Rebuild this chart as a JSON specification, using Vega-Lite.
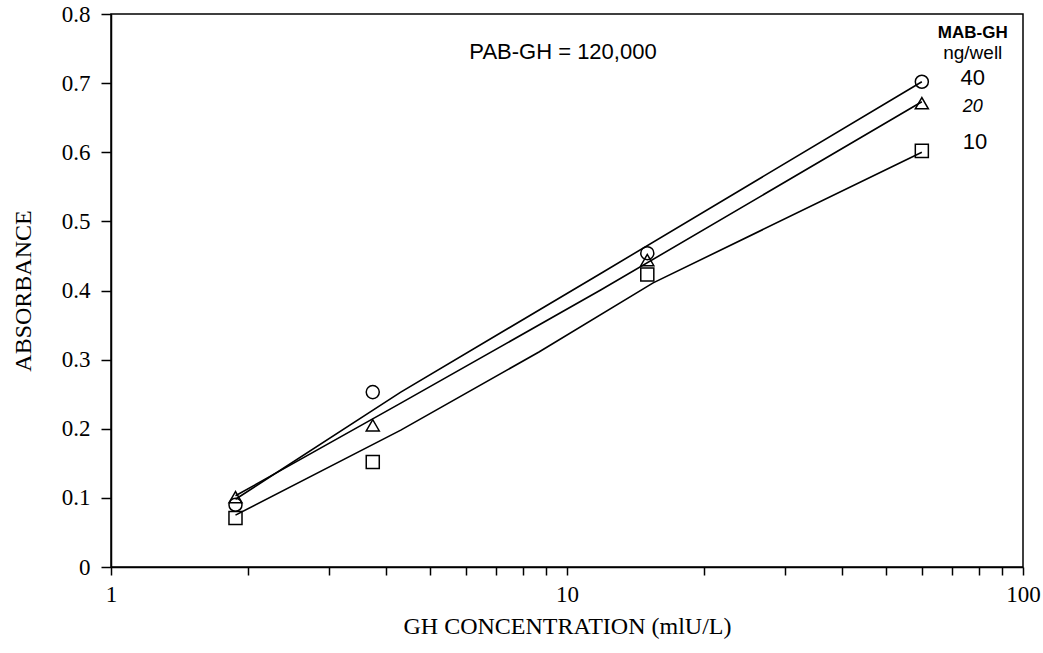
{
  "$schema": "https://vega.github.io/schema/vega-lite/v6.json",
  "autosize": "none",
  "width": 912,
  "height": 553,
  "padding": {"left": 111, "top": 14, "right": 20, "bottom": 86},
  "background": "white",
  "config": {
    "view": {"stroke": "black", "strokeWidth": 1.5},
    "axis": {
      "grid": false,
      "domainColor": "black",
      "domainWidth": 1.5,
      "tickColor": "black",
      "tickWidth": 1.5,
      "labelColor": "black",
      "titleColor": "black",
      "labelFont": "Liberation Serif",
      "titleFont": "Liberation Serif",
      "labelFontSize": 23,
      "titleFontSize": 24,
      "titleFontWeight": "normal"
    }
  },
  "datasets": {
    "points": [
      {"conc": 1.875, "abs": 0.090, "mab": "40"},
      {"conc": 3.75, "abs": 0.253, "mab": "40"},
      {"conc": 15, "abs": 0.454, "mab": "40"},
      {"conc": 60, "abs": 0.702, "mab": "40"},
      {"conc": 1.875, "abs": 0.101, "mab": "20"},
      {"conc": 3.75, "abs": 0.205, "mab": "20"},
      {"conc": 15, "abs": 0.444, "mab": "20"},
      {"conc": 60, "abs": 0.671, "mab": "20"},
      {"conc": 1.875, "abs": 0.071, "mab": "10"},
      {"conc": 3.75, "abs": 0.152, "mab": "10"},
      {"conc": 15, "abs": 0.423, "mab": "10"},
      {"conc": 60, "abs": 0.602, "mab": "10"}
    ],
    "fits": [
      {"conc": 1.875, "abs": 0.098, "mab": "40"},
      {"conc": 4.32, "abs": 0.253, "mab": "40"},
      {"conc": 11.88, "abs": 0.425, "mab": "40"},
      {"conc": 60, "abs": 0.702, "mab": "40"},
      {"conc": 1.875, "abs": 0.103, "mab": "20"},
      {"conc": 4.32, "abs": 0.237, "mab": "20"},
      {"conc": 11.88, "abs": 0.401, "mab": "20"},
      {"conc": 60, "abs": 0.673, "mab": "20"},
      {"conc": 1.875, "abs": 0.075, "mab": "10"},
      {"conc": 4.32, "abs": 0.198, "mab": "10"},
      {"conc": 8.68, "abs": 0.311, "mab": "10"},
      {"conc": 15.45, "abs": 0.411, "mab": "10"},
      {"conc": 60, "abs": 0.600, "mab": "10"}
    ],
    "notes": [
      {"conc": 9.8, "abs": 0.745, "note": "PAB-GH = 120,000", "kind": "main"},
      {"conc": 77.6, "abs": 0.773, "note": "MAB-GH", "kind": "head"},
      {"conc": 77.6, "abs": 0.744, "note": "ng/well", "kind": "sub"},
      {"conc": 77.6, "abs": 0.708, "note": "40", "kind": "val"},
      {"conc": 77.6, "abs": 0.666, "note": "20", "kind": "ital"},
      {"conc": 78.5, "abs": 0.615, "note": "10", "kind": "val"}
    ]
  },
  "encoding": {
    "x": {
      "field": "conc",
      "type": "quantitative",
      "scale": {"type": "log", "domain": [1, 100], "nice": false},
      "axis": {
        "title": "GH CONCENTRATION (mlU/L)",
        "values": [1, 2, 3, 4, 5, 6, 7, 8, 9, 10, 20, 30, 40, 50, 60, 70, 80, 90, 100],
        "labelExpr": "datum.value == 1 || datum.value == 10 || datum.value == 100 ? format(datum.value, 'd') : ''",
        "labelOverlap": false,
        "labelFlush": false,
        "tickSize": 8,
        "labelPadding": 8,
        "titlePadding": 8
      }
    },
    "y": {
      "field": "abs",
      "type": "quantitative",
      "scale": {"domain": [0, 0.8], "nice": false},
      "axis": {
        "title": "ABSORBANCE",
        "values": [0, 0.1, 0.2, 0.3, 0.4, 0.5, 0.6, 0.7, 0.8],
        "labelExpr": "datum.value == 0 ? '0' : format(datum.value, '.1f')",
        "tickSize": 10,
        "labelPadding": 11,
        "titlePadding": 26
      }
    }
  },
  "layer": [
    {
      "data": {"name": "fits"},
      "mark": {"type": "line", "color": "black", "strokeWidth": 1.6},
      "encoding": {"detail": {"field": "mab", "type": "nominal"}}
    },
    {
      "data": {"name": "points"},
      "mark": {"type": "point", "filled": false, "color": "black", "strokeWidth": 1.5, "size": 170, "opacity": 1},
      "encoding": {
        "shape": {
          "field": "mab",
          "type": "nominal",
          "scale": {"domain": ["40", "20", "10"], "range": ["circle", "triangle-up", "square"]},
          "legend": null
        }
      }
    },
    {
      "data": {"name": "notes"},
      "transform": [{"filter": "datum.kind == 'main'"}],
      "mark": {"type": "text", "font": "Liberation Sans", "fontSize": 22, "color": "black", "align": "center", "baseline": "middle"},
      "encoding": {"text": {"field": "note"}}
    },
    {
      "data": {"name": "notes"},
      "transform": [{"filter": "datum.kind == 'head'"}],
      "mark": {"type": "text", "font": "Liberation Sans", "fontSize": 17, "fontWeight": "bold", "color": "black", "align": "center", "baseline": "middle"},
      "encoding": {"text": {"field": "note"}}
    },
    {
      "data": {"name": "notes"},
      "transform": [{"filter": "datum.kind == 'sub'"}],
      "mark": {"type": "text", "font": "Liberation Sans", "fontSize": 19, "color": "black", "align": "center", "baseline": "middle"},
      "encoding": {"text": {"field": "note"}}
    },
    {
      "data": {"name": "notes"},
      "transform": [{"filter": "datum.kind == 'val'"}],
      "mark": {"type": "text", "font": "Liberation Sans", "fontSize": 22, "color": "black", "align": "center", "baseline": "middle"},
      "encoding": {"text": {"field": "note"}}
    },
    {
      "data": {"name": "notes"},
      "transform": [{"filter": "datum.kind == 'ital'"}],
      "mark": {"type": "text", "font": "Liberation Sans", "fontSize": 18, "fontStyle": "italic", "color": "black", "align": "center", "baseline": "middle"},
      "encoding": {"text": {"field": "note"}}
    }
  ]
}
